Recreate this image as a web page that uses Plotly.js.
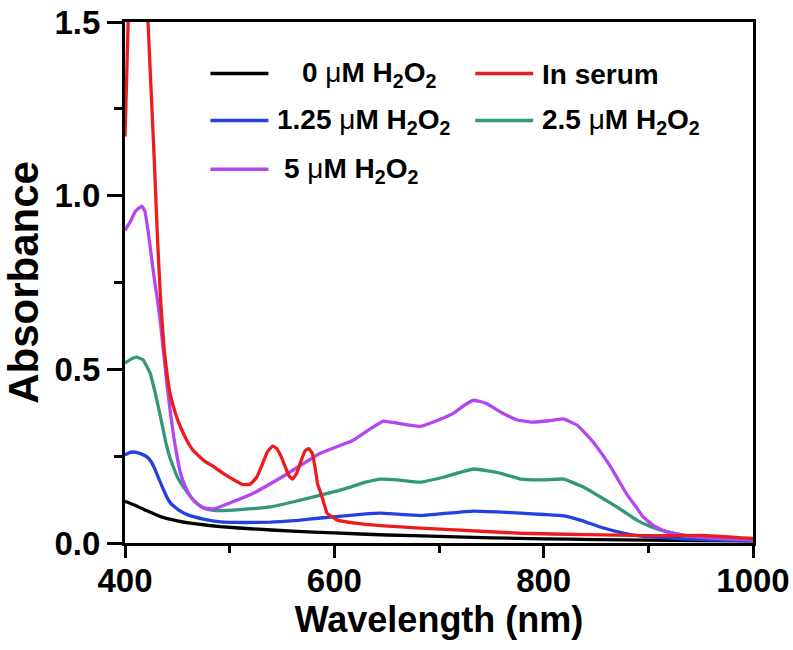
<!DOCTYPE html>
<html>
<head>
<meta charset="utf-8">
<script src="https://cdn.plot.ly/plotly-3.0.1.min.js"></script>
<style>html,body{margin:0;padding:0;background:#fff;}#chart{width:793px;height:650px;}</style>
</head>
<body>
<div id="chart"></div>
<script>
// ---- data ----
const wl0 = [400,410,420,434,450,470,491,520,560,600,650,700,750,800,850,900,950,1000];
const abs0 = [0.120,0.108,0.094,0.076,0.064,0.054,0.047,0.041,0.034,0.029,0.023,0.019,0.015,0.012,0.010,0.008,0.007,0.006];

const wlSerum = [400,401.5,403,406,410,414,418,422,425,428,431,434,437.5,440,443,448,453,459,465,475,485,495,505,513,520,526,531,536,541,545,549,553,557,560,564,568,572,575.5,579,582,584,587,590,593,598,603,620,644,682,720,778,840,900,950,1000];
const absSerum = [1.17,1.33,1.50,1.85,2.10,2.15,1.95,1.50,1.30,1.10,0.88,0.70,0.555,0.49,0.431,0.375,0.334,0.296,0.267,0.238,0.219,0.198,0.180,0.168,0.170,0.190,0.225,0.262,0.279,0.272,0.250,0.220,0.192,0.184,0.200,0.235,0.265,0.272,0.258,0.210,0.170,0.144,0.115,0.086,0.075,0.066,0.057,0.050,0.043,0.037,0.028,0.024,0.021,0.022,0.013];

const wl125 = [400,404,408,414,421,425,429,433,437,440,443.5,450,455,460,475,491,515,539,565,587,610,630,644,660,682,705,733,760,778,800,819,835,854,870,886,910,934,960,1000];
const abs125 = [0.253,0.260,0.262,0.258,0.248,0.234,0.210,0.180,0.152,0.132,0.115,0.098,0.088,0.081,0.069,0.061,0.059,0.060,0.065,0.072,0.078,0.084,0.086,0.083,0.079,0.085,0.092,0.089,0.086,0.082,0.078,0.066,0.046,0.033,0.023,0.016,0.012,0.009,0.006];

const wl25 = [400,405,411,417,424,429,434,439,443,450,460,467,475,483,491,510,539,560,587,610,630,644,660,682,705,733,760,778,800,819,838,850,864,877,889,903,918,935,950,975,1000];
const abs25 = [0.518,0.528,0.535,0.528,0.489,0.430,0.362,0.290,0.245,0.190,0.144,0.118,0.101,0.095,0.093,0.096,0.104,0.118,0.138,0.156,0.175,0.184,0.182,0.175,0.190,0.213,0.200,0.184,0.182,0.184,0.161,0.140,0.115,0.090,0.066,0.046,0.032,0.022,0.017,0.012,0.009];

const wl5 = [400,405,410,416,419,422,425,428,431,434,437,440,443,446.6,450,453,458,463,469,475,485,500,523,550,587,618,635,647,660,682,700,714,725,733,745,760,775,790,805,819,832,840,848,856,864,872,880,888,895,905,918,935,950,975,1000];
const abs5 = [0.900,0.925,0.955,0.970,0.955,0.900,0.830,0.760,0.700,0.630,0.545,0.460,0.385,0.305,0.245,0.201,0.160,0.132,0.113,0.101,0.098,0.115,0.144,0.190,0.259,0.296,0.330,0.351,0.345,0.336,0.355,0.374,0.398,0.411,0.402,0.375,0.354,0.348,0.352,0.357,0.339,0.315,0.288,0.255,0.219,0.178,0.138,0.105,0.075,0.050,0.032,0.022,0.017,0.012,0.009];

const seriesNames = ['0 \u03bcM H<sub>2</sub>O<sub>2</sub>','In serum','1.25 \u03bcM H<sub>2</sub>O<sub>2</sub>','2.5 \u03bcM H<sub>2</sub>O<sub>2</sub>','5 \u03bcM H<sub>2</sub>O<sub>2</sub>'];
const seriesColors = ['#000000','#ec1c1c','#2440e0','#33977a','#b445f2'];
const xTickVals = [400,600,800,1000];
const yTickVals = [0,0.5,1.0,1.5];

// ---- layout geometry ----
const W = 793, H = 650;
const M = {l:124.5, r:40, t:21.5, b:107};
const PW = W - M.l - M.r, PH = H - M.t - M.b;
const px2paperX = p => (p - M.l) / PW;
const px2paperY = p => (H - M.b - p) / PH;

const FONT = 'Liberation Sans, Arial, Helvetica, sans-serif';

const xs = [wl0, wlSerum, wl125, wl25, wl5];
const ys = [abs0, absSerum, abs125, abs25, abs5];
const traces = xs.map((x,i) => ({
  x: x, y: ys[i], type:'scatter', mode:'lines', name: seriesNames[i],
  line:{color: seriesColors[i], width:3.3, shape:'spline', smoothing:0.35},
  showlegend:false, hoverinfo:'skip'
}));
const order = [0,2,3,4,1];
const data = order.map(i => traces[i]);

// custom legend (line sample + label), pixel positions
const legLineX = [[210,268],[475,533],[210,268],[475,533],[210,268]];
const legRowY = [73,73,120,120,169];
const legTextX = [300,540,275,540,282];
const shapes = [], annotations = [];
for (let i=0;i<5;i++){
  shapes.push({type:'line', xref:'paper', yref:'paper',
    x0:px2paperX(legLineX[i][0]), x1:px2paperX(legLineX[i][1]),
    y0:px2paperY(legRowY[i]), y1:px2paperY(legRowY[i]),
    line:{color:seriesColors[i], width:3.5}});
  annotations.push({xref:'paper', yref:'paper', x:px2paperX(legTextX[i]), y:px2paperY(legRowY[i]+1),
    xanchor:'left', yanchor:'middle', showarrow:false,
    text: seriesNames[i].replace('\u03bc','<span style="font-weight:normal">\u03bc</span>'),
    font:{family:FONT, size:28, color:'#000', weight:'bold'}});
}

const layout = {
  width: W, height: H,
  margin: {l:M.l, r:M.r, t:M.t, b:M.b, pad:0},
  paper_bgcolor:'#fff', plot_bgcolor:'#fff',
  showlegend:false,
  font:{family:FONT, color:'#000'},
  xaxis:{
    range:[400,1000], tickvals:xTickVals, ticktext:xTickVals.map(String),
    showgrid:false, zeroline:false,
    showline:true, linecolor:'#000', linewidth:3, mirror:true,
    ticks:'outside', ticklen:12, tickwidth:3, tickcolor:'#000',
    ticklabelstandoff:-6,
    minor:{dtick:100, tick0:400, ticks:'outside', ticklen:7, tickwidth:3, tickcolor:'#000', showgrid:false},
    tickfont:{family:FONT, size:33, weight:'bold', color:'#000'},
    title:{text:'Wavelength (nm)', font:{family:FONT, size:36, weight:'bold', color:'#000'}, standoff:4},
    automargin:false
  },
  yaxis:{
    range:[0,1.5], tickvals:yTickVals, ticktext:yTickVals.map(v=>v.toFixed(1)),
    showgrid:false, zeroline:false,
    showline:true, linecolor:'#000', linewidth:3, mirror:true,
    ticks:'outside', ticklen:15, tickwidth:3, tickcolor:'#000',
    minor:{dtick:0.25, tick0:0, ticks:'outside', ticklen:8, tickwidth:3, tickcolor:'#000', showgrid:false},
    tickfont:{family:FONT, size:33, weight:'bold', color:'#000'},
    title:{text:'Absorbance', font:{family:FONT, size:42, weight:'bold', color:'#000'}, standoff:8},
    automargin:false
  },
  shapes: shapes,
  annotations: annotations
};

Plotly.newPlot('chart', data, layout, {staticPlot:true, displayModeBar:false});
</script>
</body>
</html>
